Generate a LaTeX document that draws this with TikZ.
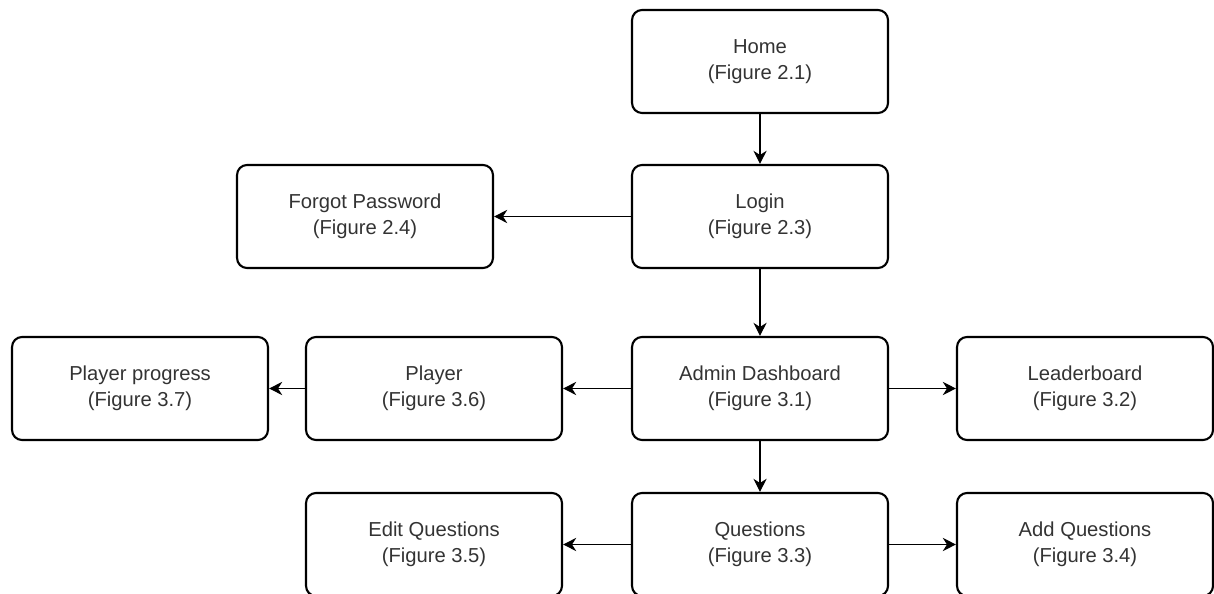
\documentclass[tikz,border=0pt]{standalone}
\usepackage{fontspec}
\setmainfont{Liberation Sans}
\usetikzlibrary{arrows.meta}
\definecolor{labelgray}{HTML}{333333}
\begin{document}
\begin{tikzpicture}[x=0.02cm,y=-0.02cm,
  screen/.style={draw=black, line width=1.2pt, rounded corners=0.2cm,
    minimum width=5.12cm, minimum height=2.06cm, align=center,
    text=labelgray, font=\fontsize{11.5}{14.5}\selectfont},
  link/.style={draw=black, line width=0.7pt,
    -{Stealth[length=7.5pt,width=7.5pt,inset=2.4pt]}}]
\useasboundingbox (0,0) rectangle (1214,594);
% screens
\node[screen] (home)   at (760,61.5)   {Home\\(Figure 2.1)};
\node[screen] (login)  at (760,216.5)  {Login\\(Figure 2.3)};
\node[screen] (forgot) at (365,216.5)  {Forgot Password\\(Figure 2.4)};
\node[screen] (admin)  at (760,388.5)  {Admin Dashboard\\(Figure 3.1)};
\node[screen] (player) at (434,388.5)  {Player\\(Figure 3.6)};
\node[screen] (prog)   at (140,388.5)  {Player progress\\(Figure 3.7)};
\node[screen] (leader) at (1085,388.5) {Leaderboard\\(Figure 3.2)};
\node[screen] (quest)  at (760,544.5)  {Questions\\(Figure 3.3)};
\node[screen] (edit)   at (434,544.5)  {Edit Questions\\(Figure 3.5)};
\node[screen] (add)    at (1085,544.5) {Add Questions\\(Figure 3.4)};
% navigation
\draw[link] (home) -- (login);
\draw[link] (login) -- (forgot);
\draw[link] (login) -- (admin);
\draw[link] (admin) -- (player);
\draw[link] (player) -- (prog);
\draw[link] (admin) -- (leader);
\draw[link] (admin) -- (quest);
\draw[link] (quest) -- (edit);
\draw[link] (quest) -- (add);
\end{tikzpicture}
\end{document}
